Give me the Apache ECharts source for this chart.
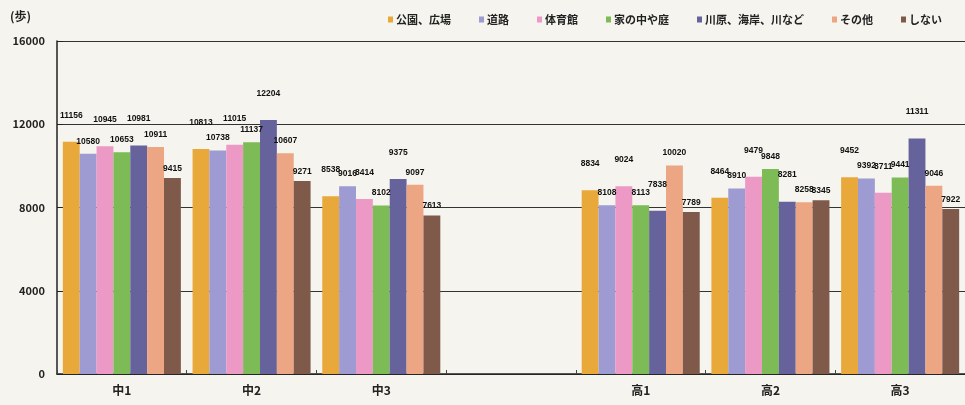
<!DOCTYPE html>
<html><head><meta charset="utf-8">
<script src="https://cdn.jsdelivr.net/npm/echarts@6/dist/echarts.min.js"></script>
<style>html,body{margin:0;padding:0;background:#f5f4ee;}#c{width:965px;height:405px;}</style>
</head><body><div id="c"></div>
<script>
const categories = ['中1','中2','中3','','高1','高2','高3'];
const seriesNames = ['公園、広場','道路','体育館','家の中や庭','川原、海岸、川など','その他','しない'];
const park   = [11156, 10813, 8538, null, 8834, 8464, 9452];
const road   = [10580, 10738, 9016, null, 8108, 8910, 9392];
const gym    = [10945, 11015, 8414, null, 9024, 9479, 8711];
const home   = [10653, 11137, 8102, null, 8113, 9848, 9441];
const river  = [10981, 12204, 9375, null, 7838, 8281, 11311];
const other  = [10911, 10607, 9097, null, 10020, 8258, 9046];
const none   = [9415, 9271, 7613, null, 7789, 8345, 7922];
const yTicks = [0, 4000, 8000, 12000, 16000];

const colors = ['#e9a93a','#9d9bd2','#ec99c6','#7cbb55','#66629c','#eca683','#7f5a4b'];
const dataSets = [park, road, gym, home, river, other, none];
const labelDist = [22, 8, 22, 8, 22, 8, 5];

const chart = echarts.init(document.getElementById('c'));
chart.setOption({
  backgroundColor: '#f5f4ee',
  animation: false,
  color: colors,
  textStyle: {fontFamily: 'Noto Sans CJK JP'},
  legend: {
    top: 9, left: 383, itemWidth: 5, itemHeight: 6, itemGap: 28,
    icon: 'rect',
    textStyle: {fontSize: 11, fontWeight: 'bold', color: '#222', padding: [0,0,0,-2]},
    data: seriesNames
  },
  graphic: [{type: 'text', left: 10, top: 10, style: {text: '(歩)', fontSize: 12, fontWeight: 'bold', fill: '#222', fontFamily: 'Noto Sans CJK JP'}}],
  grid: {left: 57, top: 41, width: 910, height: 333, containLabel: false},
  xAxis: {
    type: 'category', data: categories,
    axisLine: {lineStyle: {color: '#222', width: 1.5}},
    axisTick: {show: true, inside: true, length: 4, lineStyle: {color: '#444'}},
    axisLabel: {fontSize: 12, fontWeight: 'bold', color: '#222', margin: 10}
  },
  yAxis: {
    type: 'value', min: 0, max: 16000, interval: 4000,
    axisLine: {show: true, lineStyle: {color: '#222', width: 1.5}},
    axisTick: {show: true, inside: true, length: 6, lineStyle: {color: '#222'}},
    axisLabel: {fontSize: 11, fontWeight: 'bold', color: '#222', margin: 12,
      formatter: v => yTicks.includes(v) ? String(v) : ''},
    splitLine: {show: true, lineStyle: {color: '#333', width: 1}}
  },
  series: seriesNames.map((n, i) => ({
    name: n, type: 'bar', data: dataSets[i],
    barGap: '0%', barCategoryGap: '9%',
    itemStyle: {color: colors[i]},
    label: {show: true, position: 'top', distance: labelDist[i], fontSize: 8.5, fontWeight: 'bold', color: '#111', fontFamily: 'Liberation Sans'}
  }))
});
</script></body></html>
